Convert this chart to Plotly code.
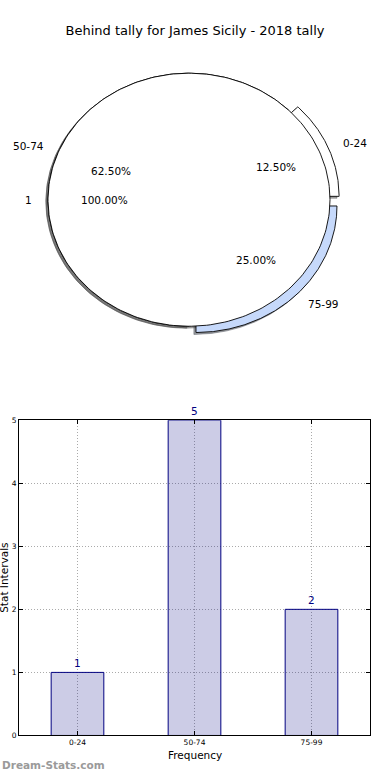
import numpy as np
import plotly.graph_objects as go

# ---------------- data ----------------
title = "Behind tally for James Sicily - 2018 tally"
categories = ["0-24", "50-74", "75-99"]
counts = [1, 5, 2]
pie_colors = ["#ffffff", "#ffffff", "#c6d9fb"]
explode = [0.07, 0.0, 0.07]
inner_labels = ["1"]
inner_values = [1]
inner_colors = ["#ffffff"]
x_title = "Frequency"
y_title = "Stat Intervals"
y_ticks = [0, 1, 2, 3, 4, 5]
watermark = "Dream-Stats.com"

W, H = 390, 780
FONT = "DejaVu Sans"

fig = go.Figure()
annotations = []


def shadow_color(hexcol):
    h = hexcol.lstrip("#")
    r, g, b = (int(h[i:i + 2], 16) for i in (0, 2, 4))
    return "rgba(%d,%d,%d,0.5)" % (0.3 * r, 0.3 * g, 0.3 * b)


def wedge_path(t1, t2, cx, cy, full=False, n=240):
    t = np.radians(np.linspace(t1, t2, n))
    xs = cx + np.cos(t)
    ys = cy + np.sin(t)
    if not full:
        xs = np.concatenate([[cx], xs, [cx]])
        ys = np.concatenate([[cy], ys, [cy]])
    return xs, ys


def pie_geometry(values, expl):
    total = float(sum(values))
    out = []
    start = 0.0
    for v, e in zip(values, expl):
        span = 360.0 * v / total
        mid = np.radians(start + span / 2)
        cx, cy = e * np.cos(mid), e * np.sin(mid)
        out.append(dict(t1=start, t2=start + span, cx=cx, cy=cy, mid=mid, e=e,
                        frac=v / total, full=abs(span - 360) < 1e-9))
        start += span
    return out


outer = pie_geometry(counts, explode)
inner = pie_geometry(inner_values, [0.0] * len(inner_values))

# shadows first (lower zorder)
for geo, cols in ((outer, pie_colors), (inner, inner_colors)):
    for g, c in zip(geo, cols):
        xs, ys = wedge_path(g["t1"], g["t2"], g["cx"] - 0.015, g["cy"] - 0.015, g["full"])
        sc = shadow_color(c)
        fig.add_trace(go.Scatter(x=xs, y=ys, mode="lines", fill="toself", fillcolor=sc,
                                 line=dict(color=sc, width=0.8), hoverinfo="skip",
                                 xaxis="x", yaxis="y"))

# wedges
for geo, cols in ((outer, pie_colors), (inner, inner_colors)):
    for g, c in zip(geo, cols):
        xs, ys = wedge_path(g["t1"], g["t2"], g["cx"], g["cy"], g["full"])
        fig.add_trace(go.Scatter(x=xs, y=ys, mode="lines", fill="toself", fillcolor=c,
                                 line=dict(color="black", width=0.9), hoverinfo="skip",
                                 xaxis="x", yaxis="y"))

# pie texts
for geo, labels in ((outer, categories), (inner, inner_labels)):
    for g, lab in zip(geo, labels):
        lx = g["e"] * np.cos(g["mid"]) + 1.1 * np.cos(g["mid"])
        ly = g["e"] * np.sin(g["mid"]) + 1.1 * np.sin(g["mid"])
        annotations.append(dict(x=lx, y=ly, xref="x", yref="y", text=lab, showarrow=False,
                                xanchor="left" if lx > 0 else "right", yanchor="middle",
                                font=dict(family=FONT, size=10.5, color="black")))
        px_ = g["e"] * np.cos(g["mid"]) + 0.6 * np.cos(g["mid"])
        py_ = g["e"] * np.sin(g["mid"]) + 0.6 * np.sin(g["mid"])
        annotations.append(dict(x=px_, y=py_, xref="x", yref="y",
                                text="%.2f%%" % (100 * g["frac"]), showarrow=False,
                                xanchor="center", yanchor="middle",
                                font=dict(family=FONT, size=10.5, color="black")))

# ---------------- bar chart ----------------
fig.add_trace(go.Bar(x=categories, y=counts, width=0.45,
                     marker=dict(color="rgba(0,0,128,0.2)",
                                 line=dict(color="#000080", width=1)),
                     hoverinfo="skip", xaxis="x2", yaxis="y2"))
for c, v in zip(categories, counts):
    annotations.append(dict(x=c, y=v, xref="x2", yref="y2", text=str(v), showarrow=False,
                            xanchor="center", yanchor="bottom", yshift=1,
                            font=dict(family=FONT, size=10.5, color="#000080")))

# axis titles / watermark
bx0, bx1 = 19 / W, 370 / W
by0, by1 = (H - 740) / H, (H - 421) / H
annotations.append(dict(x=(bx0 + bx1) / 2, y=(H - 760) / H, xref="paper", yref="paper",
                        text=x_title, showarrow=False, xanchor="center", yanchor="middle",
                        font=dict(family=FONT, size=10.5, color="black")))
annotations.append(dict(x=4 / W, y=(by0 + by1) / 2, xref="paper", yref="paper",
                        text=y_title, showarrow=False, textangle=-90,
                        xanchor="center", yanchor="middle",
                        font=dict(family=FONT, size=10.5, color="black")))
annotations.append(dict(x=0, y=(H - 770) / H, xref="paper", yref="paper",
                        text="<b>%s</b>" % watermark, showarrow=False,
                        xanchor="left", yanchor="middle",
                        font=dict(family=FONT, size=10.5, color="#9a9a9a")))

# pie axes: center at px (189, 198), radius 141 px horizontally, 128 px vertically
cxp, cyp, rx, ry = 189, 198, 141, 128
pie_top_h = 390
axis_common = dict(visible=False, showgrid=False, zeroline=False, fixedrange=True)
grid_common = dict(showline=True, linecolor="black", linewidth=1, mirror="ticks",
                   ticks="inside", ticklen=4, tickcolor="black", tickwidth=1,
                   showgrid=True, gridcolor="#aaaaaa", griddash="1px,2px", gridwidth=1,
                   zeroline=False, tickfont=dict(family=FONT, size=7.5, color="black"),
                   fixedrange=True)
fig.update_layout(
    width=W, height=H,
    margin=dict(l=0, r=0, t=0, b=0),
    paper_bgcolor="white", plot_bgcolor="white",
    showlegend=False,
    font=dict(family=FONT, color="black"),
    title=dict(text=title, x=0.5, xanchor="center", y=1 - 30 / H, yanchor="middle",
               font=dict(family=FONT, size=13, color="black")),
    xaxis=dict(domain=[0, 1], range=[-cxp / rx, (W - cxp) / rx], anchor="y", **axis_common),
    yaxis=dict(domain=[1 - pie_top_h / H, 1], range=[-(pie_top_h - cyp) / ry, cyp / ry],
               anchor="x", **axis_common),
    xaxis2=dict(domain=[bx0, bx1], anchor="y2", type="category", range=[-0.5, 2.5],
                **grid_common),
    yaxis2=dict(domain=[by0, by1], anchor="x2", range=[0, 5], tickvals=y_ticks,
                **grid_common),
    annotations=annotations,
)

fig.write_html(
    "out.html",
    config={"displayModeBar": False, "staticPlot": True},
    post_script=("document.body.style.margin='0';document.body.style.padding='0';"
                 "document.body.style.overflow='hidden';"
                 "document.documentElement.style.overflow='hidden';"),
)
